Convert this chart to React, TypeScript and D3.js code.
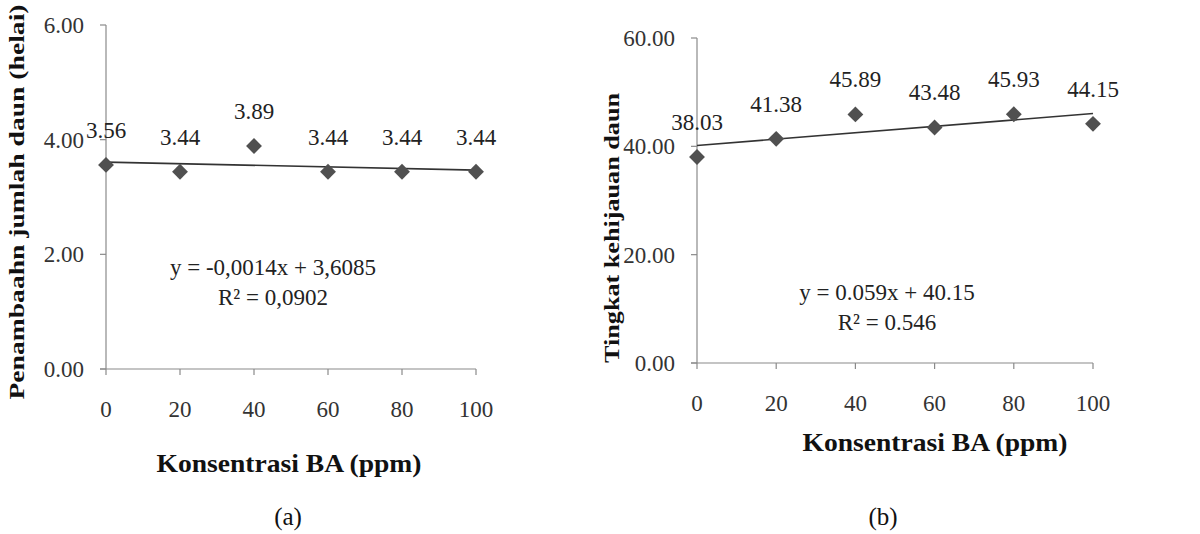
import React from "react";
import * as d3 from "d3";

const concentrations = [0, 20, 40, 60, 80, 100];
const leafCount = [3.56, 3.44, 3.89, 3.44, 3.44, 3.44];
const greenness = [38.03, 41.38, 45.89, 43.48, 45.93, 44.15];
const yTicksA = [0, 2, 4, 6];
const yTicksB = [0, 20, 40, 60];
const trendA = { slope: -0.0014, intercept: 3.6085 };
const trendB = { slope: 0.059, intercept: 40.15 };
const eqA = ["y = -0,0014x + 3,6085", "R² = 0,0902"];
const eqB = ["y = 0.059x + 40.15", "R² = 0.546"];

const FONT = "'Liberation Serif', 'Times New Roman', serif";

type PanelProps = {
  xRange: [number, number];
  yRange: [number, number];
  yMax: number;
  yTicks: number[];
  values: number[];
  trend: { slope: number; intercept: number };
  eq: string[];
  eqX: number;
  eqY: number;
  yLabel: string;
  yLabelX: number;
  yLabelY: number;
  yLabelLen: number;
  xTitleX: number;
  xTitleY: number;
  xTickY: number;
  caption: string;
  captionX: number;
};

function Panel(p: PanelProps) {
  const x = d3.scaleLinear().domain([0, 100]).range(p.xRange);
  const y = d3.scaleLinear().domain([0, p.yMax]).range(p.yRange);
  const diamond = d3.symbol().type(d3.symbolDiamond2).size(160)();
  const line = d3
    .line<number>()
    .x((d) => x(d))
    .y((d) => y(p.trend.slope * d + p.trend.intercept));
  const x0 = p.xRange[0];
  const yBase = p.yRange[0];
  return (
    <g style={{ fontFamily: FONT }}>
      {/* axes */}
      <line x1={x0} x2={x0} y1={p.yRange[1]} y2={yBase} stroke="#8a8a8a" strokeWidth={1.2} />
      <line x1={x0 - 6} x2={p.xRange[1]} y1={yBase} y2={yBase} stroke="#8a8a8a" strokeWidth={1.2} />
      {p.yTicks.map((t) => (
        <g key={"yt" + t}>
          <line x1={x0 - 6} x2={x0} y1={y(t)} y2={y(t)} stroke="#8a8a8a" strokeWidth={1.2} />
          <text x={x0 - 22} y={y(t) + 8} textAnchor="end" fontSize={23} fill="#333">
            {t.toFixed(2)}
          </text>
        </g>
      ))}
      {concentrations.map((c) => (
        <g key={"xt" + c}>
          <line x1={x(c)} x2={x(c)} y1={yBase} y2={yBase + 6} stroke="#8a8a8a" strokeWidth={1.2} />
          <text x={x(c)} y={p.xTickY + 8} textAnchor="middle" fontSize={23} fill="#333">
            {c}
          </text>
        </g>
      ))}
      {/* trend line */}
      <path d={line([0, 100]) || ""} fill="none" stroke="#333" strokeWidth={1.6} />
      {/* points */}
      {p.values.map((v, i) => (
        <path
          key={"pt" + i}
          d={diamond || ""}
          transform={`translate(${x(concentrations[i])},${y(v)})`}
          fill="#505050"
        />
      ))}
      {p.values.map((v, i) => (
        <text
          key={"lb" + i}
          x={x(concentrations[i])}
          y={y(v) - 35 + 8}
          textAnchor="middle"
          fontSize={23}
          fill="#222"
        >
          {v.toFixed(2)}
        </text>
      ))}
      {/* equation */}
      <text x={p.eqX} y={p.eqY + 8} textAnchor="middle" fontSize={23} fill="#222">
        {p.eq[0]}
      </text>
      <text x={p.eqX} y={p.eqY + 30 + 8} textAnchor="middle" fontSize={23} fill="#222">
        {p.eq[1]}
      </text>
      {/* y label */}
      <text
        transform={`translate(${p.yLabelX},${p.yLabelY}) rotate(-90)`}
        textAnchor="middle"
        fontSize={22}
        fontWeight="bold"
        fill="#111"
        dy={7}
        textLength={p.yLabelLen}
        lengthAdjust="spacingAndGlyphs"
      >
        {p.yLabel}
      </text>
      {/* x title */}
      <text
        x={p.xTitleX}
        y={p.xTitleY + 9}
        textAnchor="middle"
        fontSize={26}
        fontWeight="bold"
        fill="#111"
        textLength={265}
        lengthAdjust="spacingAndGlyphs"
      >
        Konsentrasi BA (ppm)
      </text>
      <text x={p.captionX} y={525} textAnchor="middle" fontSize={25} fill="#111">
        {p.caption}
      </text>
    </g>
  );
}

export default function App() {
  return (
    <svg
      width={1200}
      height={534}
      style={{ position: "absolute", left: 0, top: 0, background: "#fff" }}
    >
      <rect width={1200} height={534} fill="#fff" />
      <Panel
        xRange={[106, 476]}
        yRange={[369, 25]}
        yMax={6}
        yTicks={yTicksA}
        values={leafCount}
        trend={trendA}
        eq={eqA}
        eqX={273}
        eqY={267}
        yLabel="Penambaahn jumlah daun  (helai)"
        yLabelX={17}
        yLabelY={202}
        yLabelLen={395}
        xTitleX={289}
        xTitleY={463}
        xTickY={409}
        caption="(a)"
        captionX={288}
      />
      <Panel
        xRange={[697, 1093]}
        yRange={[363, 38]}
        yMax={60}
        yTicks={yTicksB}
        values={greenness}
        trend={trendB}
        eq={eqB}
        eqX={887}
        eqY={292}
        yLabel="Tingkat kehijauan daun"
        yLabelX={612}
        yLabelY={228}
        yLabelLen={270}
        xTitleX={935}
        xTitleY={442}
        xTickY={403}
        caption="(b)"
        captionX={883}
      />
    </svg>
  );
}
